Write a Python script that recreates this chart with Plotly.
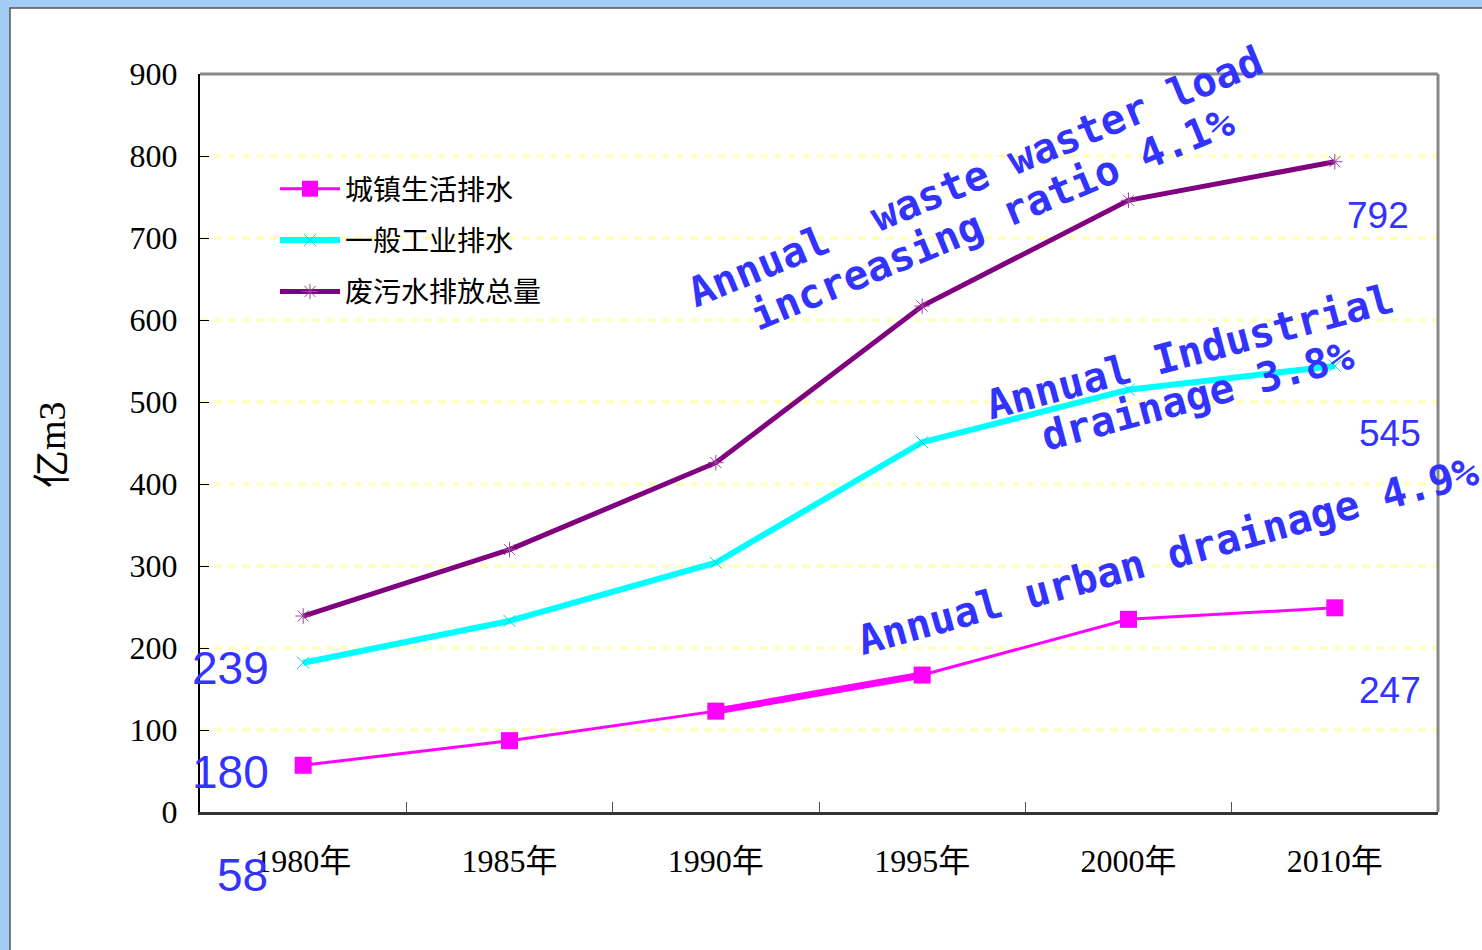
"""
城镇生活排水 / 一般工业排水 / 废污水排放总量 折线图
"""
import plotly.graph_objects as go

# 数据
years = ['1980年', '1985年', '1990年', '1995年', '2000年', '2010年']
urban = [57, 87, 123, 167, 235, 249]          # 城镇生活排水
industrial = [182, 233, 304, 451, 515, 544]   # 一般工业排水
total = [239, 320, 426, 617, 746, 793]        # 废污水排放总量

value_labels = ['792', '545', '247', '239', '180', '58']
rate_notes = ['Annual  waste waster load', 'increasing ratio 4.1%',
              'Annual Industrial', 'drainage 3.8%',
              'Annual urban drainage 4.9%']

W, H = 1482, 950
L, R, T, B = 200, 1438, 74, 812   # 绘图区像素边界


def px(x, y):
    """像素坐标 -> paper 坐标"""
    return (x - L) / (R - L), (B - y) / (B - T)


serif = 'Liberation Serif, Noto Sans CJK SC'
blue = '#3333ff'

fig = go.Figure()

fig.add_trace(go.Scatter(
    x=years, y=urban, mode='lines+markers', name='城镇生活排水',
    legendgroup='a',
    line=dict(color='#ff00ff', width=3),
    marker=dict(symbol='square', size=17, color='#ff00ff')
))
# 1990-1995 段线条较粗
fig.add_trace(go.Scatter(
    x=years[2:4], y=urban[2:4], mode='lines', showlegend=False,
    line=dict(color='#ff00ff', width=7), hoverinfo='skip'
))
fig.add_trace(go.Scatter(
    x=years, y=industrial, mode='lines+markers', name='一般工业排水',
    legendgroup='b',
    line=dict(color='#00ffff', width=6),
    marker=dict(symbol='x-thin-open', size=12, color='#00d8d8',
                line=dict(width=1, color='#00d8d8'))
))
fig.add_trace(go.Scatter(
    x=years, y=total, mode='lines+markers', name='废污水排放总量',
    legendgroup='c',
    line=dict(color='#800080', width=5),
    marker=dict(symbol='asterisk-open', size=13, color='#a040a0',
                line=dict(width=1, color='#a040a0'))
))

annotations = []

# 数值标注
label_pos = [(1378, 215, 37), (1390, 433, 37), (1390, 690, 37),
             (230, 668, 46), (230, 772, 46), (242, 875, 46)]
for text, (lx, ly, fs) in zip(value_labels, label_pos):
    xp, yp = px(lx, ly)
    annotations.append(dict(
        x=xp, y=yp, xref='paper', yref='paper', text=text, showarrow=False,
        font=dict(family='Liberation Sans, Arial', size=fs, color=blue),
        xanchor='center', yanchor='middle'
    ))

# 增长率倾斜文字
note_pos = [(975, 177, -22.5), (992, 219, -22.5),
            (1190, 352, -15), (1197, 396, -15),
            (1168, 556, -15.5)]
for text, (nx, ny, ang) in zip(rate_notes, note_pos):
    xp, yp = px(nx, ny)
    annotations.append(dict(
        x=xp, y=yp, xref='paper', yref='paper', text=text, showarrow=False,
        textangle=ang,
        font=dict(family='DejaVu Sans Mono', size=41, color=blue, weight='bold'),
        xanchor='center', yanchor='middle'
    ))

# 纵轴标题
xp, yp = px(52, 445)
annotations.append(dict(
    x=xp, y=yp, xref='paper', yref='paper', text='亿m3', showarrow=False,
    textangle=-90, font=dict(family=serif, size=38, color='black'),
    xanchor='center', yanchor='middle'
))

# 背景白板 + 边框
x0, y0 = px(10, 8)
x1, y1 = px(W + 20, H + 20)
shapes = [
    dict(type='rect', xref='paper', yref='paper', x0=x0, y0=y1, x1=x1, y1=y0,
         fillcolor='white', line=dict(color='#555555', width=1.5), layer='below'),
    dict(type='line', xref='paper', yref='paper', x0=0, x1=1, y0=1, y1=1,
         line=dict(color='#888888', width=3)),
    dict(type='line', xref='paper', yref='paper', x0=1, x1=1, y0=0, y1=1,
         line=dict(color='#888888', width=3)),
]

lx, ly = px(275, 164)
fig.update_layout(
    width=W, height=H,
    paper_bgcolor='#a4cdf6',
    plot_bgcolor='white',
    margin=dict(l=L, r=W - R, t=T, b=H - B),
    showlegend=True,
    legend=dict(x=lx, y=ly, xanchor='left', yanchor='top',
                bgcolor='rgba(0,0,0,0)', itemwidth=60, tracegroupgap=12,
                font=dict(family=serif, size=28, color='black')),
    xaxis=dict(
        type='category', range=[-0.5, 5.5], tickson='boundaries',
        ticks='inside', ticklen=10, tickcolor='#555555', tickwidth=1,
        showline=True, linecolor='#333333', linewidth=3,
        showgrid=False, ticklabelstandoff=19,
        tickfont=dict(family=serif, size=32, color='black')
    ),
    yaxis=dict(
        range=[0, 900], dtick=100, ticks='inside', ticklen=9,
        tickcolor='black', showline=True, linecolor='black', linewidth=2,
        showgrid=True, gridcolor='#ffffc4', gridwidth=4, griddash='8px,6px',
        zeroline=False, ticklabelstandoff=14,
        tickfont=dict(family='Liberation Serif', size=32, color='black')
    ),
    annotations=annotations,
    shapes=shapes,
)

fig.write_html('out.html', config={'displayModeBar': False},
               post_script="document.body.style.margin='0';")
